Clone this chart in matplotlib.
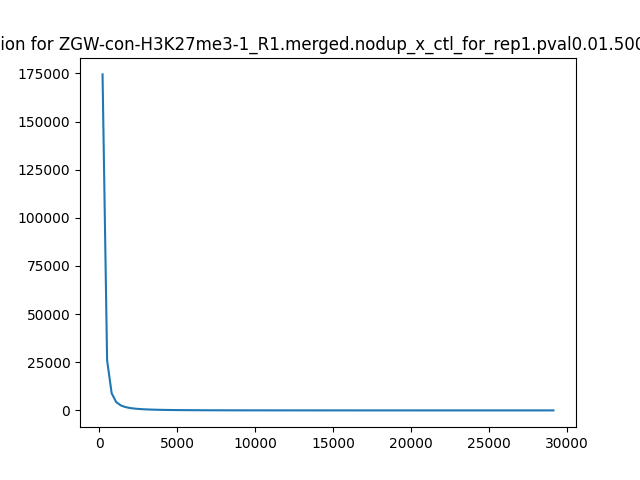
import matplotlib
matplotlib.use("Agg")
import matplotlib.pyplot as plt

# peak width histogram (bin left edges vs counts)
bin_edges = [212, 504, 796, 1088, 1380, 1672, 1964, 2256, 2548, 2840,
             3132, 3424, 3716, 4008, 4300, 4592, 4884, 5176, 5468, 5760,
             6052, 6344, 6636, 6928, 7220, 7512, 7804, 8096, 8388, 8680,
             8972, 9264, 9556, 9848, 10140, 10432, 10724, 11016, 11308, 11600,
             11892, 12184, 12476, 12768, 13060, 13352, 13644, 13936, 14228, 14520,
             14812, 15104, 15396, 15688, 15980, 16272, 16564, 16856, 17148, 17440,
             17732, 18024, 18316, 18608, 18900, 19192, 19484, 19776, 20068, 20360,
             20652, 20944, 21236, 21528, 21820, 22112, 22404, 22696, 22988, 23280,
             23572, 23864, 24156, 24448, 24740, 25032, 25324, 25616, 25908, 26200,
             26492, 26784, 27076, 27368, 27660, 27952, 28244, 28536, 28828, 29120]
counts = [174500, 26000, 8900, 4300, 2600, 1750, 1250, 950, 740, 590,
          480, 400, 330, 280, 240, 205, 178, 155, 135, 118,
          104, 92, 82, 73, 65, 58, 52, 47, 42, 38,
          34, 31, 28, 26, 24, 22, 20, 18, 17, 15,
          14, 13, 12, 11, 10, 9, 9, 8, 7, 7,
          6, 6, 5, 5, 5, 4, 4, 4, 3, 3,
          3, 3, 2, 2, 2, 2, 2, 2, 1, 1,
          1, 1, 1, 1, 1, 1, 1, 0, 1, 0,
          1, 0, 0, 1, 0, 0, 0, 1, 0, 0,
          0, 0, 0, 0, 1, 0, 0, 0, 0, 1]

peak_file = "ZGW-con-H3K27me3-1_R1.merged.nodup_x_ctl_for_rep1.pval0.01.500K.bfilt.narrowPeak.gz"

fig = plt.figure(figsize=(6.4, 4.8), dpi=100)
ax = fig.add_subplot(111)
ax.plot(bin_edges, counts)
ax.set_title("Peak width distribution for {}".format(peak_file))

fig.savefig("out.png", dpi=100)
plt.close(fig)
